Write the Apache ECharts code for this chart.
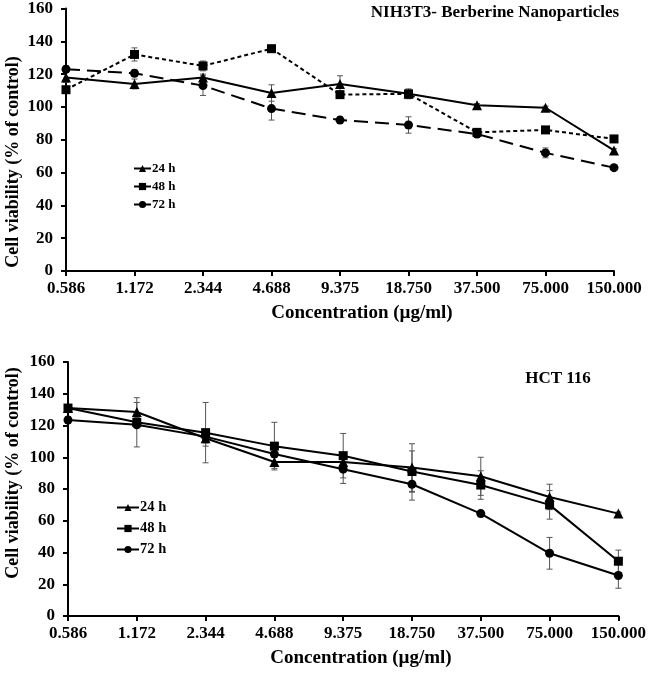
<!DOCTYPE html>
<html>
<head>
<meta charset="utf-8">
<script src="https://cdn.jsdelivr.net/npm/echarts@6/dist/echarts.min.js"></script>
<style>
  html, body { margin: 0; padding: 0; background: #fff; }
</style>
</head>
<body>
<div id="main" style="width: 649px;height:673px;"></div>
<script>
  // concentrations (µg/ml)
  var concentrations = ['0.586', '1.172', '2.344', '4.688', '9.375', '18.750', '37.500', '75.000', '150.000'];
  var yTicks = [0, 20, 40, 60, 80, 100, 120, 140, 160];

  // NIH3T3 - Berberine Nanoparticles
  var nih24 = [118, 114, 118, 108.5, 114, 108, 101, 99.5, 73.5];
  var nih48 = [110.5, 132, 125, 135.5, 107.5, 108, 84.5, 86, 80.5];
  var nih72 = [123, 120.5, 113, 99, 92, 89, 83.5, 72, 63];
  var nih24Err = [3, 3, 2, 5, 5, 2, 1, 1, 1];
  var nih48Err = [2, 4, 3, 2, 2, 3, 2, 2, 2];
  var nih72Err = [2, 2, 6, 7, 2, 5, 2, 3, 1];

  // HCT 116
  var hct24 = [131, 128.5, 112, 97, 97, 93.5, 88, 75, 64.5];
  var hct48 = [131, 122, 115.5, 107, 101, 91, 82.5, 70, 34.5];
  var hct72 = [123.5, 120.5, 113, 102, 92.5, 83, 64.5, 39.5, 25.5];
  var hct24Err = [2, 9, 5, 4, 3, 15, 12, 8, 1];
  var hct48Err = [2, 3, 19, 15, 14, 13, 9, 9, 7];
  var hct72Err = [2, 14, 4, 5, 9, 10, 2, 10, 8];

  var font = 'Liberation Serif';

  function errData(vals, errs) {
    var res = [];
    for (var i = 0; i < vals.length; i++) {
      res.push([i, vals[i], errs[i]]);
    }
    return res;
  }

  function renderErr(params, api) {
    var x = api.value(0), y = api.value(1), e = api.value(2);
    var hi = api.coord([x, y + e]);
    var lo = api.coord([x, y - e]);
    var w = 3;
    var st = { stroke: '#555', lineWidth: 1 };
    return {
      type: 'group',
      children: [
        { type: 'line', shape: { x1: hi[0], y1: hi[1], x2: lo[0], y2: lo[1] }, style: st },
        { type: 'line', shape: { x1: hi[0] - w, y1: hi[1], x2: hi[0] + w, y2: hi[1] }, style: st },
        { type: 'line', shape: { x1: lo[0] - w, y1: lo[1], x2: lo[0] + w, y2: lo[1] }, style: st }
      ]
    };
  }

  function errSeries(vals, errs, idx) {
    return {
      type: 'custom',
      xAxisIndex: idx,
      yAxisIndex: idx,
      renderItem: renderErr,
      data: errData(vals, errs),
      z: 1,
      silent: true
    };
  }

  function lineSeries(name, vals, symbol, dash, idx) {
    return {
      name: name,
      type: 'line',
      xAxisIndex: idx,
      yAxisIndex: idx,
      data: vals,
      symbol: symbol,
      symbolSize: symbol === 'triangle' ? 10 : 9,
      showAllSymbol: true,
      itemStyle: { color: '#000' },
      lineStyle: { color: '#000', width: 2, type: dash },
      z: 3
    };
  }

  function xAxisOf(idx) {
    return {
      type: 'category',
      gridIndex: idx,
      data: concentrations,
      boundaryGap: false,
      axisLine: { lineStyle: { color: '#000', width: 2 } },
      axisTick: { show: true, alignWithLabel: true, length: 5, lineStyle: { color: '#000', width: 2 } },
      axisLabel: { fontFamily: font, fontWeight: 'bold', fontSize: 17, color: '#000', margin: 9, interval: 0 },
      splitLine: { show: false }
    };
  }

  function yAxisOf(idx) {
    return {
      type: 'value',
      gridIndex: idx,
      min: yTicks[0],
      max: yTicks[yTicks.length - 1],
      interval: 20,
      axisLine: { show: true, lineStyle: { color: '#000', width: 2 } },
      axisTick: { show: true, length: 5, lineStyle: { color: '#000', width: 2 } },
      axisLabel: { fontFamily: font, fontWeight: 'bold', fontSize: 17, color: '#000', margin: 13 },
      splitLine: { show: false }
    };
  }

  function legendOf(left, top, w, gap, size) {
    return {
      data: ['24 h', '48 h', '72 h'],
      orient: 'vertical',
      left: left,
      top: top,
      itemWidth: w,
      itemHeight: 9,
      itemGap: gap,
      selectedMode: false,
      lineStyle: { type: 'solid', width: 2 },
      textStyle: { fontFamily: font, fontWeight: 'bold', fontSize: size, color: '#000', padding: [0, 0, 0, -4] }
    };
  }

  function label(text, x, y, size, rot) {
    return {
      type: 'text', x: x, y: y, rotation: rot || 0,
      style: { text: text, fontFamily: font, fontWeight: 'bold', fontSize: size, fill: '#000', align: 'center', verticalAlign: 'middle' }
    };
  }

  var myChart = echarts.init(document.getElementById('main'));

  var option = {
    animation: false,
    backgroundColor: '#fff',
    grid: [
      { left: 66, right: 35, top: 8, bottom: 402 },
      { left: 68, right: 30, top: 362, bottom: 57 }
    ],
    xAxis: [xAxisOf(0), xAxisOf(1)],
    yAxis: [yAxisOf(0), yAxisOf(1)],
    legend: [legendOf(128, 157, 17, 5, 13), legendOf(111, 495, 22, 6, 14.5)],
    graphic: [
      label('NIH3T3- Berberine Nanoparticles', 495, 13, 17),
      label('HCT 116', 558, 379, 17),
      label('Concentration (µg/ml)', 362, 313, 19),
      label('Concentration (µg/ml)', 361, 658, 19),
      label('Cell viability (% of control)', 13, 162, 18, Math.PI / 2),
      label('Cell viability (% of control)', 13, 473, 18, Math.PI / 2)
    ],
    series: [
      errSeries(nih24, nih24Err, 0),
      errSeries(nih48, nih48Err, 0),
      errSeries(nih72, nih72Err, 0),
      lineSeries('24 h', nih24, 'triangle', 'solid', 0),
      lineSeries('48 h', nih48, 'rect', [4, 3], 0),
      lineSeries('72 h', nih72, 'circle', [14, 7], 0),
      errSeries(hct24, hct24Err, 1),
      errSeries(hct48, hct48Err, 1),
      errSeries(hct72, hct72Err, 1),
      lineSeries('24 h', hct24, 'triangle', 'solid', 1),
      lineSeries('48 h', hct48, 'rect', 'solid', 1),
      lineSeries('72 h', hct72, 'circle', 'solid', 1)
    ]
  };
  myChart.setOption(option);
</script>
</body>
</html>
